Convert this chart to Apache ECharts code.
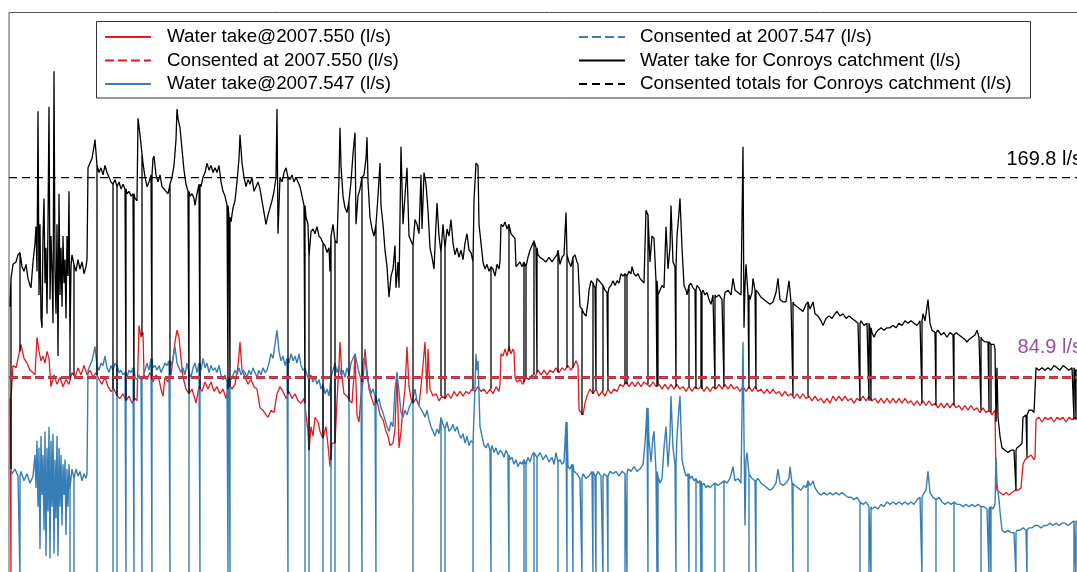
<!DOCTYPE html>
<html><head><meta charset="utf-8">
<script src="https://cdn.jsdelivr.net/npm/echarts@6/dist/echarts.min.js"></script>
<style>html,body{margin:0;padding:0;background:#fff;overflow:hidden}#c{width:1095px;height:582px}</style>
</head><body><div id="c"></div>
<script>
const FONT = '"Liberation Sans", Arial, Helvetica, sans-serif';
const seriesNames = [
  'Water take@2007.550 (l/s)',
  'Consented at 2007.550 (l/s)',
  'Water take@2007.547 (l/s)',
  'Consented at 2007.547 (l/s)',
  'Water take for Conroys catchment (l/s)',
  'Consented totals for Conroys catchment (l/s)'
];
const consent550 = 84.9;
const consent547 = 84.9;
const consentTotal = 169.8;
const sampleRange = [9, 1090];

const redTake = [[10,76],[13,90],[16,89],[19,95],[21,99],[24,93],[27,91],[30,88],[33,87],[35,86],[37,102],[39,96],[41,92],[43,94],[45,91],[47,96],[49,93],[51,81],[54,86],[57,82],[60,85],[63,81],[66,84],[69,82],[72,87],[75,85],[78,89],[81,86],[84,90],[87,86],[90,88],[93,85],[96,87],[99,84],[102,82],[105,85],[108,81],[111,79],[114,80],[117,77],[120,76],[123,78],[126,75],[129,77],[132,74],[135,76],[137,75],[139,107],[141,102],[143,104],[144,86],[147,84],[150,87],[153,83],[156,86],[159,84],[161,80],[163,77],[165,85],[168,83],[171,86],[173,93],[175,100],[177,105],[179,102],[181,93],[183,85],[186,80],[189,78],[192,80],[194,77],[196,74],[199,81],[202,79],[205,83],[208,80],[211,83],[214,79],[217,81],[220,78],[223,80],[226,76],[229,82],[232,80],[235,82],[238,90],[240,100],[242,88],[245,85],[248,82],[251,84],[254,81],[257,80],[260,72],[263,71],[266,69],[268,68],[271,71],[274,70],[277,78],[280,81],[283,79],[286,76],[289,79],[292,76],[295,78],[298,75],[301,74],[304,76],[306,69],[308,62],[309,54],[311,64],[313,60],[315,68],[318,66],[320,62],[323,59],[326,64],[328,56],[330,47],[332,57],[335,57],[337,75],[339,90],[340,100],[342,85],[344,78],[347,77],[350,75],[352,74],[354,86],[355,95],[357,69],[359,66],[361,77],[363,83],[365,97],[367,88],[369,80],[371,77],[374,73],[377,75],[380,69],[383,67],[386,62],[388,60],[390,56],[393,57],[395,63],[397,87],[399,55],[401,62],[403,72],[405,80],[407,98],[409,81],[411,76],[413,74],[416,76],[419,73],[421,81],[423,90],[425,100],[427,78],[428,97],[430,80],[433,77],[436,78],[439,75],[442,77],[445,76],[448,78],[451,76],[454,79],[457,77],[460,79],[463,77],[466,79],[469,78],[472,80],[475,79],[478,81],[481,79],[484,80],[487,78],[490,80],[493,78],[496,81],[499,79],[500,82],[501,95],[503,94],[505,97],[507,94],[509,98],[511,95],[513,97],[514,96],[515,85],[517,83],[520,84],[523,82],[526,85],[529,84],[532,86],[535,85],[538,88],[541,86],[544,88],[547,86],[550,88],[553,87],[556,89],[559,87],[562,89],[565,88],[568,90],[571,88],[574,90],[576,92],[578,90],[579,71],[581,70],[583,69],[585,74],[587,77],[590,80],[593,78],[596,80],[599,77],[602,79],[605,77],[608,80],[611,78],[614,80],[617,79],[620,82],[623,81],[626,83],[629,81],[632,83],[635,81],[638,83],[641,81],[644,83],[647,82],[650,81],[653,83],[656,81],[659,82],[662,80],[665,82],[668,80],[671,82],[674,80],[677,82],[680,80],[683,81],[686,79],[689,81],[692,79],[695,81],[698,80],[701,81],[704,79],[707,81],[710,79],[713,81],[716,80],[719,82],[722,80],[725,82],[728,80],[731,82],[734,80],[737,81],[740,79],[743,81],[746,79],[749,81],[752,79],[755,81],[758,79],[761,80],[764,78],[767,80],[770,78],[773,80],[776,78],[779,79],[782,77],[785,79],[788,77],[791,78],[794,76],[797,78],[800,76],[803,78],[806,76],[809,77],[812,75],[815,77],[818,75],[821,76],[824,74],[827,76],[830,74],[833,77],[836,75],[839,77],[842,75],[845,77],[848,75],[851,76],[854,74],[857,76],[860,75],[863,77],[866,75],[869,77],[872,75],[875,76],[878,74],[881,76],[884,74],[887,76],[890,74],[893,76],[896,74],[899,76],[902,74],[905,76],[908,74],[911,75],[914,73],[917,75],[920,73],[923,75],[926,73],[929,75],[932,73],[935,74],[938,72],[941,74],[944,72],[947,74],[950,72],[953,74],[956,72],[959,73],[962,71],[965,73],[968,71],[971,73],[974,71],[977,72],[980,70],[983,72],[986,70],[989,71],[992,69],[995,71],[996,40],[997,37],[1000,36],[1003,35],[1006,36],[1009,35],[1012,36],[1015,37],[1018,37],[1021,38],[1023,48],[1025,50],[1028,51],[1031,52],[1034,50],[1035,51],[1036,67],[1039,68],[1042,66],[1045,68],[1048,67],[1051,68],[1054,66],[1057,68],[1060,67],[1063,68],[1066,66],[1069,68],[1072,67],[1075,68],[1078,67],[1088,67]];

const blueTake = [[10,47],[12,44],[15,46],[18,43],[21,45],[24,41],[27,44],[30,40],[33,43],[35,52],[36,38],[37,58],[38,30],[39,55],[40,12],[41,60],[42,35],[43,52],[44,20],[45,62],[46,9],[47,55],[48,28],[49,64],[50,8],[51,58],[52,30],[53,61],[54,10],[55,50],[56,25],[57,60],[58,9],[59,55],[60,30],[61,52],[62,22],[63,48],[64,35],[65,50],[66,18],[67,46],[68,30],[69,48],[70,38],[72,46],[74,42],[76,46],[78,43],[80,45],[82,41],[84,44],[86,42],[87,44],[88,88],[90,90],[92,92],[94,96],[95,98],[97,90],[99,88],[101,91],[103,90],[105,94],[107,89],[109,87],[111,90],[113,88],[115,91],[117,90],[119,87],[121,88],[123,86],[125,87],[127,85],[129,88],[131,87],[133,89],[135,85],[137,84],[139,86],[141,84],[143,85],[145,88],[147,91],[149,88],[151,93],[153,89],[155,90],[157,88],[159,90],[161,87],[163,89],[165,91],[167,90],[169,92],[171,90],[173,93],[175,98],[177,91],[179,89],[181,87],[183,89],[185,86],[187,91],[189,87],[191,85],[193,89],[195,91],[197,87],[199,91],[201,88],[203,93],[205,89],[207,91],[209,87],[211,90],[213,88],[215,89],[217,87],[219,90],[221,86],[223,84],[225,86],[227,83],[229,85],[231,84],[233,86],[235,88],[237,86],[239,89],[241,86],[243,88],[245,87],[247,85],[249,88],[251,86],[253,89],[255,87],[257,85],[259,88],[261,86],[263,89],[265,87],[267,88],[269,91],[271,95],[273,93],[275,99],[277,105],[279,96],[281,92],[283,94],[285,90],[287,93],[289,91],[291,95],[293,92],[295,94],[297,91],[299,95],[301,90],[303,88],[305,89],[307,86],[309,84],[311,86],[313,83],[315,85],[317,82],[319,84],[321,80],[323,82],[325,78],[327,80],[329,77],[331,85],[333,88],[335,91],[337,87],[339,90],[341,86],[343,88],[345,85],[347,89],[349,86],[351,91],[353,93],[355,95],[357,91],[359,87],[361,84],[363,92],[365,94],[367,85],[369,82],[371,78],[373,80],[375,77],[377,74],[379,76],[381,72],[383,70],[385,67],[387,64],[389,62],[391,66],[393,64],[395,80],[397,87],[399,79],[401,70],[403,68],[405,71],[407,69],[409,72],[411,74],[413,76],[415,80],[417,75],[419,73],[421,73],[423,70],[425,68],[427,71],[429,67],[431,64],[433,62],[435,60],[437,63],[439,61],[441,68],[443,65],[445,63],[447,66],[449,62],[451,63],[453,65],[455,62],[457,64],[459,61],[461,59],[463,61],[465,57],[467,60],[469,56],[471,58],[473,57],[475,81],[476,95],[477,88],[478,92],[480,64],[482,60],[484,56],[486,55],[488,57],[490,54],[492,56],[494,53],[496,55],[498,52],[500,54],[502,53],[504,51],[506,54],[508,52],[510,50],[512,51],[514,48],[516,50],[518,47],[520,49],[522,48],[524,50],[526,48],[528,51],[530,49],[532,52],[534,53],[537,51],[540,53],[543,50],[546,52],[549,49],[552,51],[554,48],[556,53],[558,49],[560,50],[562,48],[564,49],[566,66],[568,47],[570,46],[572,48],[574,45],[577,44],[580,42],[583,44],[586,42],[589,43],[592,45],[595,43],[598,45],[601,43],[604,44],[607,43],[610,45],[613,44],[616,45],[619,43],[622,45],[625,44],[628,46],[631,45],[634,47],[637,45],[640,46],[643,48],[645,57],[647,72],[649,58],[651,49],[653,60],[654,62],[656,45],[658,43],[660,40],[662,42],[664,55],[666,64],[668,47],[670,60],[671,77],[673,55],[675,48],[677,60],[679,72],[680,77],[682,50],[684,46],[686,43],[688,44],[690,42],[692,43],[694,41],[696,42],[698,40],[700,41],[702,39],[704,40],[706,38],[708,39],[710,38],[712,39],[715,40],[718,39],[721,40],[724,41],[727,40],[730,42],[733,47],[735,41],[738,42],[741,40],[743,100],[744,60],[745,22],[746,50],[747,53],[749,44],[752,42],[755,41],[758,42],[761,40],[764,39],[767,38],[770,37],[773,38],[776,40],[778,46],[780,40],[783,39],[786,40],[789,42],[790,47],[792,40],[795,39],[798,38],[801,37],[804,39],[806,38],[808,41],[810,39],[812,40],[813,41],[815,38],[818,36],[821,35],[824,36],[827,35],[830,36],[833,35],[836,36],[839,35],[842,36],[845,35],[848,34],[851,34],[854,33],[857,34],[860,32],[863,31],[866,32],[869,30],[872,29],[875,30],[878,29],[881,31],[884,30],[887,32],[890,31],[893,32],[896,31],[899,32],[902,31],[905,32],[908,31],[911,32],[914,31],[917,33],[920,34],[923,35],[926,37],[928,45],[930,36],[933,34],[936,33],[939,34],[942,32],[945,31],[948,32],[951,31],[954,32],[957,31],[960,31],[963,30],[966,31],[969,30],[972,31],[975,30],[978,31],[981,30],[984,30],[987,29],[990,30],[993,29],[995,31],[996,51],[997,40],[999,33],[1000,28],[1002,20],[1005,19],[1008,20],[1011,19],[1014,19],[1017,20],[1020,20],[1023,21],[1026,20],[1029,21],[1032,21],[1035,22],[1038,22],[1041,21],[1044,22],[1047,22],[1050,23],[1053,22],[1056,23],[1059,22],[1062,23],[1065,23],[1068,22],[1071,23],[1074,24],[1077,23],[1088,23]];

const totalTake = [[10,115],[11,127],[13,133],[16,134],[18,137],[20,138],[22,132],[24,130],[26,133],[28,127],[30,124],[31,123],[33,134],[35,142],[36,149],[37,130],[38,198],[39,120],[40,150],[41,110],[42,106],[43,145],[44,161],[45,125],[46,140],[47,112],[48,150],[49,200],[50,118],[51,145],[52,130],[53,108],[54,215],[55,130],[56,112],[57,150],[58,94],[59,163],[60,120],[61,140],[62,115],[63,145],[64,125],[65,135],[66,110],[67,145],[68,128],[69,164],[70,100],[71,132],[72,137],[74,133],[76,130],[78,135],[80,131],[82,134],[84,129],[86,132],[87,135],[88,174],[90,176],[92,178],[94,183],[95,186],[97,175],[99,172],[101,174],[103,171],[105,175],[107,172],[109,170],[111,168],[113,167],[115,169],[117,166],[119,168],[121,165],[123,167],[125,165],[127,163],[129,164],[131,162],[133,163],[135,161],[137,160],[138,195],[140,188],[142,180],[143,176],[145,170],[147,166],[149,168],[151,171],[153,178],[154,179],[156,171],[158,168],[160,171],[162,166],[164,165],[166,164],[168,163],[170,167],[172,170],[174,175],[176,186],[177,199],[178,195],[180,191],[182,182],[184,173],[186,167],[188,164],[190,162],[192,163],[194,161],[195,158],[197,163],[199,167],[201,166],[203,170],[205,172],[207,176],[209,173],[211,175],[213,172],[215,174],[217,172],[219,175],[221,168],[223,164],[225,162],[227,158],[229,153],[231,151],[233,157],[235,160],[237,168],[239,178],[240,188],[242,176],[244,170],[246,166],[248,169],[250,167],[252,170],[254,164],[256,166],[258,168],[260,165],[262,160],[264,155],[266,150],[268,154],[270,157],[272,160],[274,164],[276,170],[277,199],[278,146],[280,170],[282,168],[284,172],[286,174],[288,170],[290,169],[292,171],[294,168],[296,170],[298,168],[300,166],[302,162],[304,158],[306,153],[308,150],[309,136],[311,147],[313,148],[315,146],[317,149],[319,145],[321,144],[323,142],[325,141],[327,138],[329,140],[330,130],[331,145],[333,150],[335,143],[337,142],[339,170],[340,191],[341,175],[343,162],[345,157],[347,155],[349,160],[351,168],[353,180],[355,189],[356,150],[358,162],[360,165],[362,170],[364,171],[366,178],[367,187],[368,168],[370,153],[372,148],[374,145],[376,150],[378,162],[380,176],[381,158],[383,150],[385,139],[387,132],[389,119],[391,128],[393,131],[395,141],[396,123],[398,134],[399,123],[401,183],[403,150],[405,150],[407,174],[409,145],[411,143],[413,141],[415,152],[417,150],[419,146],[421,171],[422,148],[424,172],[426,167],[428,156],[430,140],[432,136],[434,131],[436,150],[437,159],[439,145],[441,138],[443,150],[445,140],[447,148],[449,145],[451,152],[453,142],[455,137],[457,140],[459,136],[461,139],[463,135],[465,142],[467,146],[469,139],[471,138],[473,134],[474,160],[476,176],[478,175],[479,150],[481,142],[483,134],[485,131],[487,133],[489,130],[491,132],[493,131],[495,128],[497,133],[499,131],[500,134],[501,150],[503,149],[505,151],[507,148],[509,150],[511,146],[513,145],[515,144],[516,132],[518,133],[520,134],[522,132],[524,134],[526,132],[528,136],[530,139],[532,141],[534,143],[536,140],[538,137],[540,136],[543,135],[546,134],[549,136],[552,134],[555,136],[557,137],[558,139],[560,133],[562,136],[564,137],[566,155],[567,137],[569,134],[571,132],[573,136],[575,137],[577,134],[578,133],[580,115],[582,114],[584,112],[586,111],[588,117],[589,122],[591,126],[593,125],[595,123],[597,127],[599,126],[601,125],[603,124],[605,122],[607,121],[609,123],[611,124],[613,126],[615,124],[617,126],[619,125],[621,129],[623,128],[625,129],[627,128],[629,130],[631,129],[632,132],[634,129],[636,128],[638,129],[640,127],[642,126],[644,125],[646,156],[648,154],[650,134],[652,145],[654,144],[656,126],[658,120],[660,122],[662,124],[664,123],[666,149],[668,131],[670,140],[671,158],[673,134],[675,132],[677,145],[679,155],[680,161],[682,140],[684,124],[686,122],[687,120],[689,124],[691,125],[693,123],[695,122],[697,124],[699,123],[701,121],[703,122],[705,120],[707,121],[709,118],[711,116],[713,120],[716,119],[719,120],[722,118],[725,121],[728,122],[731,120],[733,127],[735,122],[738,121],[741,120],[743,183],[744,106],[745,124],[746,133],[748,120],[750,118],[752,121],[753,127],[755,122],[758,121],[761,119],[764,118],[767,117],[770,116],[773,117],[776,121],[778,127],[780,118],[783,117],[786,117],[789,126],[791,117],[794,116],[797,115],[800,114],[803,113],[806,116],[808,117],[810,114],[813,117],[815,112],[818,111],[821,109],[823,107],[826,110],[829,111],[832,110],[835,112],[837,113],[840,111],[843,112],[846,110],[849,111],[852,110],[855,109],[858,108],[861,109],[864,107],[867,108],[870,106],[872,104],[874,102],[876,104],[878,105],[881,106],[884,105],[887,106],[890,106],[893,107],[896,106],[899,108],[902,107],[905,109],[908,108],[911,109],[914,108],[917,107],[920,109],[923,112],[925,109],[928,118],[930,108],[932,105],[935,104],[938,105],[941,103],[944,104],[947,102],[950,104],[953,103],[956,104],[959,103],[962,102],[965,101],[967,100],[969,101],[972,102],[975,103],[977,105],[979,102],[982,101],[985,100],[988,100],[991,99],[994,99],[995,97],[996,66],[997,89],[998,68],[1000,60],[1002,55],[1005,54],[1008,53],[1011,54],[1014,54],[1017,55],[1020,56],[1022,57],[1023,68],[1026,69],[1029,71],[1032,71],[1034,70],[1035,70],[1036,89],[1039,88],[1042,89],[1045,88],[1048,89],[1051,88],[1054,90],[1057,89],[1060,88],[1063,90],[1066,89],[1069,88],[1072,89],[1075,88],[1078,88],[1088,88]];

// instants where a take fell away: [sample, value reached]
const redDrops = [[11,0]];
const blueDropSamples = [20,70,74,97,113,117,126,134,142,152,170,189,200,228,230,288,305,309,323,331,335,349,362,376,413,441,445,473,491,509,524,526,534,537,558,567,573,582,593,596,603,608,625,627,648,657,658,676,689,696,701,702,715,724,749,756,793,808,860,869,871,922,936,954,981,989,991,1016,1027,1074,1076];
const totalDrops = [[11,46],[20,96],[70,84],[74,86],[97,86],[113,80],[117,77],[126,75],[134,75],[142,103],[152,84],[170,86],[189,78],[200,80],[228,80],[230,81],[288,78],[305,74],[309,54],[323,59],[331,50],[335,57],[349,75],[362,83],[376,74],[413,74],[441,77],[445,76],[473,80],[491,80],[509,96],[524,83],[526,85],[534,86],[537,87],[558,87],[567,89],[573,89],[582,69],[593,78],[596,80],[603,79],[608,80],[625,82],[627,82],[648,82],[657,81],[658,82],[676,81],[689,81],[696,80],[701,81],[702,80],[715,80],[724,81],[749,80],[756,80],[793,77],[808,77],[860,75],[869,75],[871,75],[922,74],[936,73],[954,73],[981,71],[989,71],[991,70],[1016,37],[1027,51],[1074,67],[1076,67]];

function withDrops(points, drops) {
  const out = points.slice();
  drops.forEach(function (d) {
    let prev = points[0];
    for (let i = 0; i < points.length; i++) { if (points[i][0] <= d[0]) prev = points[i]; else break; }
    out.push([d[0] - 0.01, prev[1]], [d[0], d[1]], [d[0] + 0.01, prev[1]]);
  });
  out.sort(function (a, b) { return a[0] - b[0]; });
  return out;
}

const redData = withDrops(redTake, redDrops);
const blueData = withDrops(blueTake, blueDropSamples.map(function (t) { return [t, 0]; }));
const totalData = withDrops(totalTake, totalDrops);
function flat(v) { return [[sampleRange[0], v], [sampleRange[1], v]]; }

const RED = '#e41a1c', BLUE = '#377eb8', BLACK = '#000000';
const chart = echarts.init(document.getElementById('c'), null, { renderer: 'canvas' });
const legendBase = {
  orient: 'vertical', top: 27, padding: 0, itemWidth: 46, itemHeight: 14, itemGap: 3.5,
  itemStyle: { opacity: 0 },
  textStyle: { fontSize: 18.8, fontFamily: FONT, color: '#000', lineHeight: 20, padding: [0, 0, 0, 11] },
  z: 6
};
chart.setOption({
  animation: false,
  backgroundColor: '#fff',
  grid: { left: 9, top: 12.5, width: 1081, height: 564.8, show: true, borderColor: '#555', borderWidth: 1, backgroundColor: 'rgba(0,0,0,0)' },
  xAxis: { type: 'value', min: sampleRange[0], max: sampleRange[1], show: false },
  yAxis: { type: 'value', min: 0, max: 240, show: false },
  legend: [
    Object.assign({}, legendBase, { left: 104, data: seriesNames.slice(0, 3) }),
    Object.assign({}, legendBase, { left: 578, data: seriesNames.slice(3, 6), textStyle: Object.assign({}, legendBase.textStyle, { padding: [0, 0, 0, 10] }) })
  ],
  series: [
    { name: seriesNames[0], type: 'line', data: redData, symbol: 'none', z: 2, color: RED, lineStyle: { color: RED, width: 1.3 } },
    { name: seriesNames[2], type: 'line', data: blueData, symbol: 'none', z: 2, color: BLUE, lineStyle: { color: BLUE, width: 1.4 } },
    { name: seriesNames[4], type: 'line', data: totalData, symbol: 'none', z: 2, color: BLACK, lineStyle: { color: BLACK, width: 1.3 } },
    { name: seriesNames[1], type: 'line', data: flat(consent550), symbol: 'none', z: 2, color: RED, lineStyle: { color: RED, width: 3, type: [9, 4] } },
    { name: seriesNames[3], type: 'line', data: flat(consent547), symbol: 'none', z: 2, color: BLUE, lineStyle: { color: BLUE, width: 1.4, type: [9, 4] } },
    { name: seriesNames[5], type: 'line', data: flat(consentTotal), symbol: 'none', z: 2, color: BLACK, lineStyle: { color: BLACK, width: 1.2, type: [8, 5] } }
  ]
});
const yTotal = chart.convertToPixel({ yAxisIndex: 0 }, consentTotal);
const yEach = chart.convertToPixel({ yAxisIndex: 0 }, consent550);
chart.setOption({
  graphic: [
    { type: 'rect', z: 3, shape: { x: 96.5, y: 21.5, width: 934, height: 76.5 }, style: { fill: '#fff', stroke: '#333', lineWidth: 1 } },
    { type: 'text', z: 5, style: { text: consentTotal.toFixed(1) + ' l/s', x: 1082, y: yTotal - 18, textAlign: 'right', textVerticalAlign: 'middle', align: 'right', verticalAlign: 'middle', fontSize: 20, fontFamily: FONT, fill: '#000' } },
    { type: 'text', z: 5, style: { text: consent550.toFixed(1) + ' l/s', x: 1082, y: yEach - 30, textAlign: 'right', textVerticalAlign: 'middle', align: 'right', verticalAlign: 'middle', fontSize: 20, fontFamily: FONT, fill: '#984ea3' } }
  ]
});
</script></body></html>
